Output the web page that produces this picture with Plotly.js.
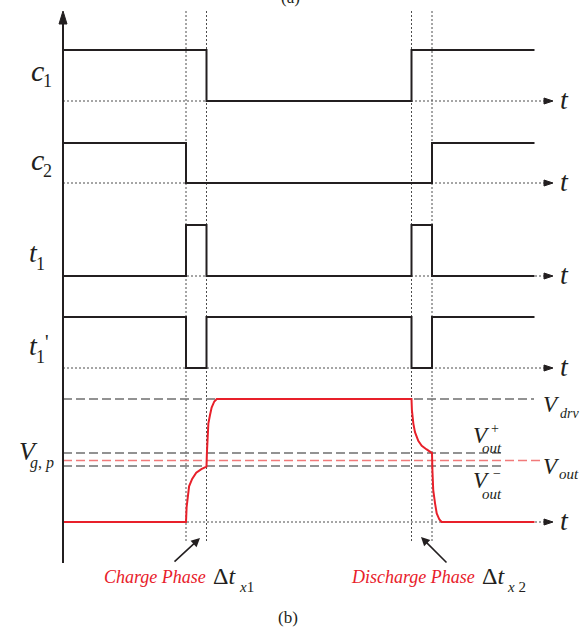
<!DOCTYPE html>
<html>
<head>
<meta charset="utf-8">
<script src="https://cdn.plot.ly/plotly-3.0.1.min.js"></script>
<style>
  html, body { margin: 0; padding: 0; background: #ffffff; }
  #chart { width: 584px; height: 635px; }
</style>
</head>
<body>
<div id="chart"></div>
<script>
// ---- Timing diagram data (time in units of one transition interval) ----
const phaseEdges = [6, 7, 17, 18];          // boundaries of the charge / discharge intervals
const tEnd = 23;

const timeC1  = [0, 7, 7, 17, 17, 23];
const levelC1 = [1, 1, 0, 0, 1, 1];

const timeC2  = [0, 6, 6, 18, 18, 23];
const levelC2 = [1, 1, 0, 0, 1, 1];

const timeT1  = [0, 6, 6, 7, 7, 17, 17, 18, 18, 23];
const levelT1 = [0, 0, 1, 1, 0, 0, 1, 1, 0, 0];

const timeT1b  = [0, 6, 6, 7, 7, 17, 17, 18, 18, 23];
const levelT1b = [1, 1, 0, 0, 1, 1, 0, 0, 1, 1];

// gate voltage V_g,p (normalised to V_drv = 1)
const vDrv = 1.0;
const vOut = 0.5;
const vOutPlus = 0.56;
const vOutMinus = 0.455;

const chargeT = [6.0, 6.03, 6.08, 6.15, 6.3, 6.5, 6.75, 7.0, 7.02, 7.04, 7.09, 7.17, 7.25, 7.38, 7.5];
const chargeV = [0, 0.12, 0.22, 0.29, 0.35, 0.40, 0.43, 0.45, 0.56, 0.67, 0.80, 0.87, 0.93, 0.98, 1.0];

const dischargeT = [17.0, 17.02, 17.09, 17.17, 17.33, 17.5, 17.74, 18.0, 18.02, 18.06, 18.15, 18.23, 18.36, 18.47];
const dischargeV = [1.0, 0.91, 0.80, 0.73, 0.66, 0.62, 0.59, 0.56, 0.42, 0.26, 0.15, 0.07, 0.02, 0];

const timeV  = [0].concat(chargeT, dischargeT, [tEnd]);
const levelV = [0].concat(chargeV, dischargeV, [0]);

// ---- page geometry ----
const W = 584, H = 635;
const x0px = 63, pxPerUnit = 20.5;
const px = p => p / W;
const py = p => 1 - p / H;
const tAt = p => (p - x0px) / pxPerUnit;

const black = '#231f20';
const dotGray = '#4d4d4d';
const dashGray = '#6f6f6f';
const red = '#e8202a';
const lightRed = '#f17a7a';
const serif = '"Liberation Serif", "Times New Roman", Times, serif';

function rowAxis(lowPx, highPx, pad) {
  const ppu = lowPx - highPx;
  const bottom = lowPx + pad * ppu, top = highPx - pad * ppu;
  return { domain: [py(bottom), py(top)], range: [-pad, 1 + pad], visible: false,
           fixedrange: true, anchor: 'x' };
}

const rows = [
  { ax: 'y',  t: timeC1,  v: levelC1 },
  { ax: 'y2', t: timeC2,  v: levelC2 },
  { ax: 'y3', t: timeT1,  v: levelT1 },
  { ax: 'y4', t: timeT1b, v: levelT1b }
];

const traces = rows.map(r => ({
  x: r.t, y: r.v, xaxis: 'x', yaxis: r.ax, mode: 'lines',
  line: { color: black, width: 2 }, hoverinfo: 'skip', showlegend: false
}));
traces.push({
  x: timeV, y: levelV, xaxis: 'x', yaxis: 'y5', mode: 'lines',
  line: { color: red, width: 2 }, hoverinfo: 'skip', showlegend: false
});

// ---- shapes: time baselines with arrowheads, phase markers, axis, voltage levels ----
const shapes = [];
const tArrowBase = tAt(545), tArrowTip = tAt(553);
['y', 'y2', 'y3', 'y4', 'y5'].forEach(ax => {
  shapes.push({ type: 'line', layer: 'below', xref: 'x', yref: ax, x0: 0, x1: tArrowBase, y0: 0, y1: 0,
                line: { color: dotGray, width: 1, dash: '2px,2px' } });
  shapes.push({ type: 'path', xref: 'x', yref: ax, xsizemode: 'pixel', ysizemode: 'pixel',
                xanchor: tArrowTip, yanchor: 0, path: 'M-9,-3 L0,0 L-9,3 Z',
                fillcolor: black, line: { color: black, width: 1 } });
});
phaseEdges.forEach(t => {
  shapes.push({ type: 'line', layer: 'below', xref: 'x', yref: 'paper', x0: t, x1: t,
                y0: py(541), y1: py(10), line: { color: dotGray, width: 1, dash: '2px,2px' } });
});
// vertical signal axis
shapes.push({ type: 'line', xref: 'x', yref: 'paper', x0: 0, x1: 0, y0: py(563), y1: py(20),
              line: { color: black, width: 2 } });
shapes.push({ type: 'path', xref: 'x', yref: 'paper', xsizemode: 'pixel', ysizemode: 'pixel',
              xanchor: 0, yanchor: py(11), path: 'M-4,-13 L0,0 L4,-13 Z',
              fillcolor: black, line: { color: black, width: 1 } });
// voltage reference levels
const levelLines = [
  { v: vDrv,      end: tAt(534), color: dashGray },
  { v: vOutPlus,  end: tAt(505), color: dashGray },
  { v: vOutMinus, end: tAt(505), color: dashGray },
  { v: vOut,      end: tAt(542), color: lightRed }
];
levelLines.forEach(l => {
  shapes.push({ type: 'line', layer: 'below', xref: 'x', yref: 'y5', x0: 0, x1: l.end, y0: l.v, y1: l.v,
                line: { color: l.color, width: 1.5, dash: '9px,4px' } });
});

// ---- text ----
const annotations = [];
function label(text, cx, baseline, size, color, anchor) {
  annotations.push({ xref: 'paper', yref: 'paper', x: px(cx), y: py(baseline - 0.34 * size),
                     xanchor: anchor || 'center', yanchor: 'middle', showarrow: false, text: text,
                     borderpad: 0,
                     font: { family: serif, size: size, color: color || black } });
}
// row names
label('<i>c</i>', 37, 81, 30);  label('1', 47, 87, 18);
label('<i>c</i>', 37, 170, 30); label('2', 47, 177, 18);
label('<i>t</i>', 33, 262, 28); label('1', 40, 270, 18);
label('<i>t</i>', 33, 355, 28); label('1', 40, 363, 18); label('\'', 47, 349, 20);
label('<i>V</i>', 28, 460, 26); label('<i>g</i>, <i>p</i>', 42, 468, 16);
// time axis labels
[101, 183, 276, 368, 522].forEach(b => label('<i>t</i>', 564, b + 8, 28));
// voltage level names
label('<i>V</i>', 551, 412, 23); label('<i>drv</i>', 569, 418, 14);
label('<i>V</i>', 481, 443, 23); label('+', 495, 433, 14); label('<i>out</i>', 492, 453, 15);
label('<i>V</i>', 551, 474, 23); label('<i>out</i>', 569, 479, 15);
label('<i>V</i>', 481, 488, 23); label('\u2212', 497, 478, 14); label('<i>out</i>', 492, 499, 15);
// phase captions
label('<i>Charge Phase</i>', 155, 583, 18, red);
label('\u0394<i>t</i>', 224, 584, 24); label('<i>x</i>1', 246, 592, 15);
label('<i>Discharge Phase</i>', 413, 583, 18, red);
label('\u0394<i>t</i>', 493, 584, 24); label('<i>x</i> 2', 516, 592, 15);
// sub-figure tags
label('(a)', 290, 3, 17);
label('(b)', 288, 623, 17);
// arrows pointing at the transition intervals
annotations.push({ xref: 'paper', yref: 'paper', x: px(200), y: py(538), ax: -27, ay: 25,
                   showarrow: true, arrowhead: 2, arrowsize: 1.1, arrowwidth: 1.6, arrowcolor: black, text: '' });
annotations.push({ xref: 'paper', yref: 'paper', x: px(421), y: py(537), ax: 27, ay: 27,
                   showarrow: true, arrowhead: 2, arrowsize: 1.1, arrowwidth: 1.6, arrowcolor: black, text: '' });

const layout = {
  width: W, height: H,
  margin: { l: 0, r: 0, t: 0, b: 0 },
  paper_bgcolor: '#ffffff', plot_bgcolor: 'rgba(0,0,0,0)',
  showlegend: false,
  font: { family: serif },
  xaxis: { range: [tAt(0), tAt(W)], visible: false, fixedrange: true, anchor: 'y' },
  yaxis:  rowAxis(101, 50, 0.2),
  yaxis2: rowAxis(183, 143, 0.2),
  yaxis3: rowAxis(276, 225, 0.2),
  yaxis4: rowAxis(368, 317, 0.2),
  yaxis5: rowAxis(522, 399, 0.1),
  shapes: shapes,
  annotations: annotations
};

Plotly.newPlot('chart', traces, layout, { staticPlot: true, displayModeBar: false });
</script>
</body>
</html>
